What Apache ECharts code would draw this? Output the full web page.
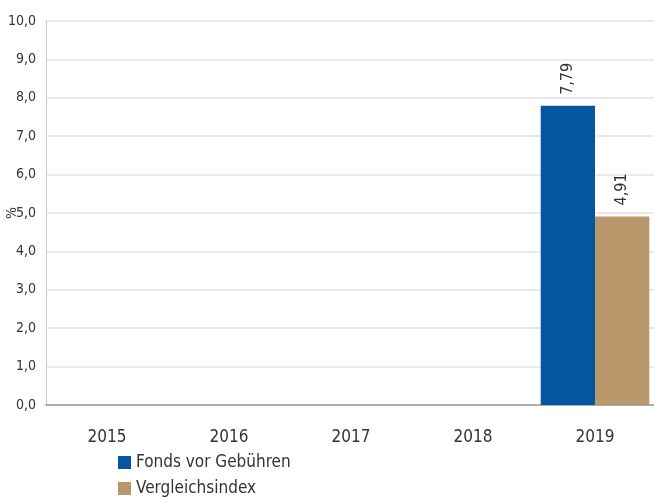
<!DOCTYPE html>
<html><head><meta charset="utf-8">
<script src="https://cdn.jsdelivr.net/npm/echarts@6/dist/echarts.min.js"></script>
<style>html,body{margin:0;padding:0;background:#fff}#c{width:654px;height:499px}</style>
</head><body><div id="c"></div>
<script>
var categories = ['2015','2016','2017','2018','2019'];
var fundValues = [null,null,null,null,7.79];
var indexValues = [null,null,null,null,4.91];
var seriesNames = ['Fonds vor Gebühren','Vergleichsindex'];
var yTicks = [0,1,2,3,4,5,6,7,8,9,10];

var fmt = function(v){ return Number(v).toFixed(2).replace('.',','); };
var chart = echarts.init(document.getElementById('c'));
var font = '"Liberation Sans Narrow", "DejaVu Sans Condensed", "Noto Sans"';
chart.setOption({
  animation:false,
  textStyle:{fontFamily:font},
  grid:{left:46, top:21, width:610, height:384, containLabel:false, outerBoundsMode:'none'},
  legend:{orient:'vertical', left:113, top:449, height:60, itemWidth:13, itemHeight:13, itemGap:9,
    icon:'rect', textStyle:{fontFamily:font, fontSize:17, color:'#333'}, data:seriesNames},
  xAxis:{type:'category', data:categories,
    axisLine:{lineStyle:{color:'#999', width:1.5}}, axisTick:{show:false},
    axisLabel:{fontSize:17, color:'#333', margin:24, fontFamily:font}},
  yAxis:{type:'value', min:0, max:10, interval:1, name:'%', nameLocation:'middle', nameGap:27,
    nameMoveOverlap:false,
    nameRotate:90, nameTextStyle:{fontSize:14, color:'#333', fontFamily:font},
    axisLine:{show:true, lineStyle:{color:'#ccc'}}, axisTick:{show:false},
    splitLine:{lineStyle:{color:'#e3e3e3', width:1.5}},
    axisLabel:{fontSize:14, color:'#333', margin:10, fontFamily:font,
      formatter:function(v){ return yTicks.indexOf(v)>=0 ? v.toFixed(1).replace('.',',') : ''; }}},
  series:[
    {name:seriesNames[0], type:'bar', data:fundValues, barGap:'0%', barCategoryGap:'11%',
     itemStyle:{color:'#0556A0'},
     label:{show:true, position:'top', rotate:90, align:'left', verticalAlign:'middle', distance:11,
       fontSize:16, color:'#333', fontFamily:font, formatter:function(p){return fmt(p.value);}}},
    {name:seriesNames[1], type:'bar', data:indexValues, barGap:'0%', barCategoryGap:'11%',
     itemStyle:{color:'#B8976A'},
     label:{show:true, position:'top', rotate:90, align:'left', verticalAlign:'middle', distance:11,
       fontSize:16, color:'#333', fontFamily:font, formatter:function(p){return fmt(p.value);}}}
  ]
});
</script></body></html>
